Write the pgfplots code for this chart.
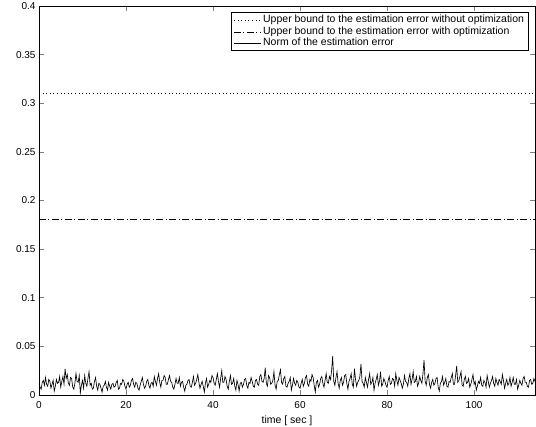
\documentclass[border=0pt]{standalone}
\usepackage{fontspec}
\setmainfont{Liberation Sans}
\usepackage{pgfplots}
\pgfplotsset{compat=1.18}
\usepackage{pgfplotstable}
\pgfplotstableread[row sep=\\]{
y\\
0.012\\ 0.008\\ 0.006\\ 0.013\\ 0.015\\ 0.010\\ 0.018\\ 0.011\\ 0.009\\ 0.016\\
0.014\\ 0.007\\ 0.011\\ 0.015\\ 0.004\\ 0.009\\ 0.016\\ 0.012\\ 0.013\\ 0.019\\
0.008\\ 0.014\\ 0.019\\ 0.011\\ 0.027\\ 0.017\\ 0.021\\ 0.012\\ 0.010\\ 0.018\\
0.017\\ 0.008\\ 0.006\\ 0.012\\ 0.022\\ 0.014\\ 0.013\\ 0.020\\ 0.002\\ 0.010\\
0.015\\ 0.007\\ 0.020\\ 0.012\\ 0.009\\ 0.017\\ 0.024\\ 0.010\\ 0.012\\ 0.006\\
0.007\\ 0.014\\ 0.018\\ 0.009\\ 0.005\\ 0.012\\ 0.011\\ 0.007\\ 0.003\\ 0.009\\
0.010\\ 0.014\\ 0.008\\ 0.005\\ 0.013\\ 0.009\\ 0.006\\ 0.011\\ 0.012\\ 0.008\\
0.009\\ 0.013\\ 0.015\\ 0.006\\ 0.007\\ 0.012\\ 0.011\\ 0.016\\ 0.014\\ 0.009\\
0.006\\ 0.011\\ 0.013\\ 0.008\\ 0.010\\ 0.015\\ 0.017\\ 0.011\\ 0.008\\ 0.013\\
0.012\\ 0.007\\ 0.005\\ 0.010\\ 0.014\\ 0.018\\ 0.011\\ 0.007\\ 0.009\\ 0.014\\
0.016\\ 0.010\\ 0.007\\ 0.012\\ 0.013\\ 0.009\\ 0.019\\ 0.014\\ 0.010\\ 0.017\\
0.022\\ 0.013\\ 0.008\\ 0.015\\ 0.015\\ 0.020\\ 0.018\\ 0.011\\ 0.011\\ 0.016\\
0.020\\ 0.014\\ 0.013\\ 0.008\\ 0.006\\ 0.011\\ 0.017\\ 0.012\\ 0.012\\ 0.018\\
0.009\\ 0.013\\ 0.014\\ 0.008\\ 0.004\\ 0.010\\ 0.011\\ 0.015\\ 0.016\\ 0.009\\
0.008\\ 0.013\\ 0.019\\ 0.010\\ 0.012\\ 0.016\\ 0.021\\ 0.013\\ 0.007\\ 0.011\\
0.014\\ 0.009\\ 0.003\\ 0.012\\ 0.017\\ 0.008\\ 0.011\\ 0.015\\ 0.013\\ 0.020\\
0.018\\ 0.012\\ 0.010\\ 0.016\\ 0.022\\ 0.014\\ 0.008\\ 0.017\\ 0.025\\ 0.013\\
0.013\\ 0.019\\ 0.016\\ 0.009\\ 0.006\\ 0.014\\ 0.020\\ 0.011\\ 0.012\\ 0.017\\
0.009\\ 0.005\\ 0.015\\ 0.011\\ 0.004\\ 0.012\\ 0.013\\ 0.008\\ 0.011\\ 0.016\\
0.017\\ 0.010\\ 0.007\\ 0.013\\ 0.012\\ 0.018\\ 0.014\\ 0.009\\ 0.008\\ 0.015\\
0.016\\ 0.011\\ 0.010\\ 0.019\\ 0.021\\ 0.014\\ 0.013\\ 0.017\\ 0.028\\ 0.012\\
0.009\\ 0.020\\ 0.018\\ 0.011\\ 0.012\\ 0.015\\ 0.024\\ 0.010\\ 0.006\\ 0.014\\
0.015\\ 0.021\\ 0.026\\ 0.013\\ 0.011\\ 0.017\\ 0.019\\ 0.009\\ 0.008\\ 0.012\\
0.014\\ 0.018\\ 0.005\\ 0.010\\ 0.017\\ 0.012\\ 0.010\\ 0.015\\ 0.013\\ 0.008\\
0.007\\ 0.012\\ 0.016\\ 0.009\\ 0.012\\ 0.018\\ 0.020\\ 0.011\\ 0.009\\ 0.016\\
0.014\\ 0.021\\ 0.018\\ 0.010\\ 0.003\\ 0.013\\ 0.015\\ 0.008\\ 0.011\\ 0.017\\
0.019\\ 0.012\\ 0.008\\ 0.015\\ 0.022\\ 0.013\\ 0.012\\ 0.019\\ 0.016\\ 0.025\\
0.040\\ 0.014\\ 0.010\\ 0.018\\ 0.024\\ 0.012\\ 0.007\\ 0.015\\ 0.018\\ 0.010\\
0.013\\ 0.020\\ 0.021\\ 0.012\\ 0.006\\ 0.014\\ 0.017\\ 0.022\\ 0.011\\ 0.008\\
0.027\\ 0.016\\ 0.009\\ 0.013\\ 0.015\\ 0.019\\ 0.032\\ 0.014\\ 0.012\\ 0.008\\
0.018\\ 0.013\\ 0.008\\ 0.016\\ 0.022\\ 0.011\\ 0.013\\ 0.018\\ 0.005\\ 0.012\\
0.016\\ 0.021\\ 0.010\\ 0.014\\ 0.024\\ 0.009\\ 0.011\\ 0.017\\ 0.014\\ 0.010\\
0.008\\ 0.015\\ 0.019\\ 0.011\\ 0.012\\ 0.017\\ 0.016\\ 0.009\\ 0.022\\ 0.015\\
0.010\\ 0.018\\ 0.015\\ 0.012\\ 0.007\\ 0.011\\ 0.020\\ 0.014\\ 0.013\\ 0.009\\
0.017\\ 0.022\\ 0.011\\ 0.016\\ 0.024\\ 0.013\\ 0.014\\ 0.019\\ 0.009\\ 0.012\\
0.019\\ 0.015\\ 0.012\\ 0.022\\ 0.036\\ 0.014\\ 0.010\\ 0.018\\ 0.021\\ 0.011\\
0.007\\ 0.013\\ 0.016\\ 0.010\\ 0.012\\ 0.017\\ 0.018\\ 0.008\\ 0.004\\ 0.012\\
0.014\\ 0.019\\ 0.010\\ 0.013\\ 0.017\\ 0.009\\ 0.008\\ 0.014\\ 0.013\\ 0.018\\
0.022\\ 0.011\\ 0.011\\ 0.020\\ 0.030\\ 0.013\\ 0.015\\ 0.019\\ 0.024\\ 0.010\\
0.009\\ 0.016\\ 0.019\\ 0.012\\ 0.013\\ 0.017\\ 0.008\\ 0.011\\ 0.016\\ 0.021\\
0.011\\ 0.014\\ 0.005\\ 0.009\\ 0.014\\ 0.012\\ 0.018\\ 0.010\\ 0.009\\ 0.015\\
0.013\\ 0.008\\ 0.020\\ 0.014\\ 0.008\\ 0.012\\ 0.015\\ 0.019\\ 0.012\\ 0.009\\
0.017\\ 0.013\\ 0.010\\ 0.016\\ 0.014\\ 0.011\\ 0.021\\ 0.015\\ 0.007\\ 0.012\\
0.016\\ 0.010\\ 0.012\\ 0.018\\ 0.009\\ 0.013\\ 0.018\\ 0.011\\ 0.011\\ 0.016\\
0.006\\ 0.010\\ 0.015\\ 0.012\\ 0.010\\ 0.017\\ 0.019\\ 0.013\\ 0.013\\ 0.009\\
0.008\\ 0.015\\ 0.016\\ 0.011\\ 0.012\\ 0.017\\ 0.014\\ 0.010\\ 0.013\\ 0.011\\
}\noisedata
\begin{document}
\begin{tikzpicture}
\begin{axis}[
  scale only axis,
  width=496pt, height=389pt,
  xmin=0, xmax=114, ymin=0, ymax=0.4,
  xtick={0,20,40,60,80,100},
  ytick={0,0.05,0.1,0.15,0.2,0.25,0.3,0.35,0.4},
  yticklabel style={/pgf/number format/fixed},
  xticklabel style={yshift=-3pt},
  /pgf/number format/assume math mode=true,
  tick label style={font=\fontsize{10}{12}\selectfont},
  tick align=inside,
  major tick length=5pt,
  tick style={line width=0.6pt},
  xtick pos=both, ytick pos=both,
  axis line style={line width=0.8pt},
  xlabel={time [ sec ]},
  xlabel style={font=\fontsize{10.5}{12}\selectfont},
  legend cell align=left,
  legend style={at={(axis description cs:1,1)}, anchor=north east,
    xshift=-6pt, yshift=-6.5pt,
    draw=black, line width=0.9pt, font=\fontsize{10.5}{12}\selectfont,
    row sep=1.8pt, inner sep=2.5pt,
    nodes={inner xsep=2pt, inner ysep=0pt, text height=7.5pt, text depth=2.2pt}},
  legend image code/.code={\draw[#1, line width=0.5pt] (0pt,0pt) -- (27pt,0pt);},
]
\addplot[black, line width=0.5pt, dash pattern=on 0.6pt off 3pt] coordinates {(0,0.31) (114,0.31)};
\addlegendentry{Upper bound to the estimation error without optimization}
\addplot[black, line width=0.5pt, dash pattern=on 7pt off 2.5pt on 1pt off 2.5pt] coordinates {(0,0.181) (114,0.181)};
\addlegendentry{Upper bound to the estimation error with optimization}
\addplot[black, line width=0.65pt] table[x expr=\coordindex*0.25, y=y] {\noisedata};
\addlegendentry{Norm of the estimation error}
\end{axis}
\pgfresetboundingbox
\path[use as bounding box] (-39pt,-32pt) rectangle (497pt,395pt);
\end{tikzpicture}
\end{document}
